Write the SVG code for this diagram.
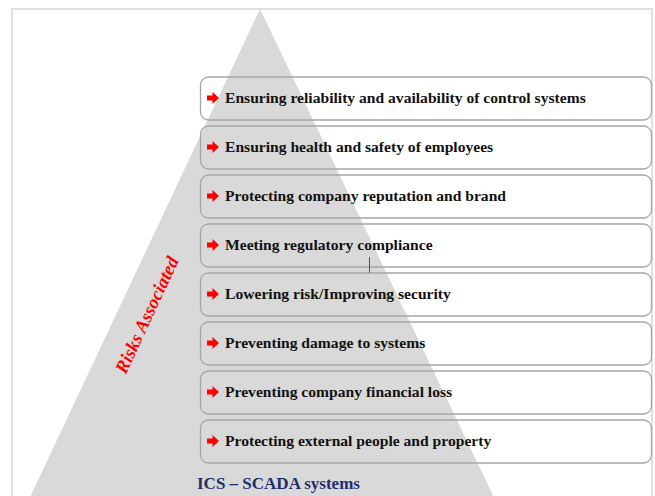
<svg xmlns="http://www.w3.org/2000/svg" width="655" height="496" viewBox="0 0 655 496">
  <style>
    .frame { fill: #ffffff; stroke: #d6d6d6; stroke-width: 1.5; }
    .pyramid { fill: #d9d9d9; }
    .box { fill: none; stroke: #a6a6a6; stroke-width: 1.3; }
    .label { font-family: "Liberation Serif", "Times New Roman", serif; font-weight: bold; font-size: 15.6px; fill: #111111; }
    .side { font-family: "Liberation Serif", "Times New Roman", serif; font-weight: bold; font-style: italic; font-size: 18.5px; fill: #ff0000; }
    .base { font-family: "Liberation Serif", "Times New Roman", serif; font-weight: bold; font-size: 17px; fill: #1f2f6b; }
    .tick { stroke: #555555; stroke-width: 1; }
  </style>
  <defs>
    <!-- small red block arrow used as bullet -->
    <path id="bullet" d="M0,-2.5 H5.5 V-6 L12,0 L5.5,6 V2.5 H0 Z" fill="#ff0000"/>
  </defs>

  <rect width="655" height="496" fill="#ffffff"/>
  <rect class="frame" x="12" y="9" width="640" height="500"/>

  <!-- background pyramid -->
  <polygon class="pyramid" points="260,9 24,510 500,510"/>

  <g id="side-label">
    <text class="side" x="147" y="321" text-anchor="middle" transform="rotate(-65 147 315)">Risks Associated</text>
  </g>

  <g id="item1">
    <rect class="box" x="200.5" y="77" width="451" height="43" rx="8"/>
    <use href="#bullet" x="207" y="98"/>
    <text class="label" x="225" y="103">Ensuring reliability and availability of control systems</text>
  </g>
  <g id="item2">
    <rect class="box" x="200.5" y="126" width="451" height="43" rx="8"/>
    <use href="#bullet" x="207" y="147"/>
    <text class="label" x="225" y="152">Ensuring health and safety of employees</text>
  </g>
  <g id="item3">
    <rect class="box" x="200.5" y="175" width="451" height="43" rx="8"/>
    <use href="#bullet" x="207" y="196"/>
    <text class="label" x="225" y="201">Protecting company reputation and brand</text>
  </g>
  <g id="item4">
    <rect class="box" x="200.5" y="224" width="451" height="43" rx="8"/>
    <use href="#bullet" x="207" y="245"/>
    <text class="label" x="225" y="250">Meeting regulatory compliance</text>
  </g>
  <g id="item5">
    <rect class="box" x="200.5" y="273" width="451" height="43" rx="8"/>
    <use href="#bullet" x="207" y="294"/>
    <text class="label" x="225" y="299">Lowering risk/Improving security</text>
  </g>
  <g id="item6">
    <rect class="box" x="200.5" y="322" width="451" height="43" rx="8"/>
    <use href="#bullet" x="207" y="343"/>
    <text class="label" x="225" y="348">Preventing damage to systems</text>
  </g>
  <g id="item7">
    <rect class="box" x="200.5" y="371" width="451" height="43" rx="8"/>
    <use href="#bullet" x="207" y="392"/>
    <text class="label" x="225" y="397">Preventing company financial loss</text>
  </g>
  <g id="item8">
    <rect class="box" x="200.5" y="420" width="451" height="43" rx="8"/>
    <use href="#bullet" x="207" y="441"/>
    <text class="label" x="225" y="446">Protecting external people and property</text>
  </g>

  <g id="connectors">
    <line class="tick" x1="369.5" y1="257" x2="369.5" y2="273"/>
  </g>

  <g id="base-label">
    <text class="base" x="197" y="489">ICS – SCADA systems</text>
  </g>
</svg>
